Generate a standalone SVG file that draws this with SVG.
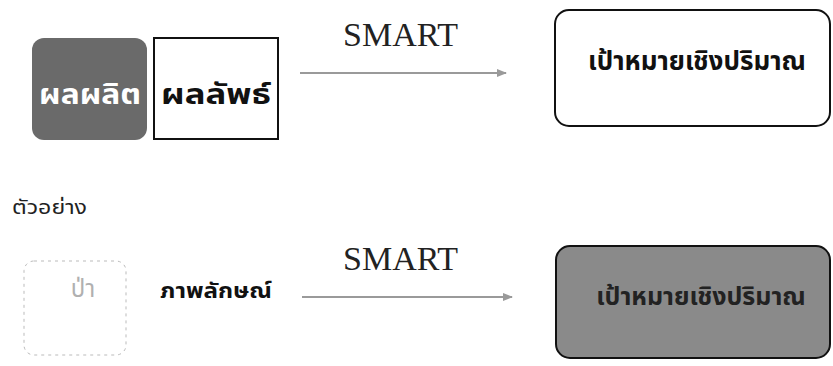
<svg xmlns="http://www.w3.org/2000/svg" width="833" height="366" viewBox="0 0 833 366">
<style>
.th{font-family:"Noto Sans Thai","Noto Sans","DejaVu Sans",sans-serif;font-weight:bold}
.thn{font-family:"Noto Sans Thai","Noto Sans","DejaVu Sans",sans-serif;font-weight:normal}
.sm{font-family:"Liberation Serif",serif;font-size:34px;fill:#222}
.conn{stroke:#9a9a9a;stroke-width:2;fill:none}
</style>
<defs>
<marker id="ah" markerWidth="10" markerHeight="8" refX="9" refY="4" orient="auto" markerUnits="userSpaceOnUse">
<path d="M0,0 L10,4 L0,8 Z" fill="#9a9a9a"/>
</marker>
</defs>
<rect width="833" height="366" fill="#fff"/>
<g id="output">
<rect x="32" y="38" width="115" height="102" rx="12" fill="#6a6a6a"/>
<text class="th" x="39" y="104" font-size="29" fill="#fff" textLength="102" lengthAdjust="spacingAndGlyphs">ผลผลิต</text>
</g>
<g id="outcome">
<rect x="154" y="38" width="124" height="101" fill="#fff" stroke="#111" stroke-width="2"/>
<text class="th" x="161" y="104" font-size="29" fill="#111" textLength="110" lengthAdjust="spacingAndGlyphs">ผลลัพธ์</text>
</g>
<g id="goal1">
<rect x="555" y="10" width="275" height="116" rx="14" fill="#fff" stroke="#111" stroke-width="2"/>
<text class="th" x="697" y="70" font-size="26" fill="#111" text-anchor="middle">เป้าหมายเชิงปริมาณ</text>
</g>
<g id="example-label">
<text class="thn" x="12" y="214" font-size="19" fill="#222" textLength="75" lengthAdjust="spacingAndGlyphs">ตัวอย่าง</text>
</g>
<g id="forest">
<rect x="24" y="261" width="102" height="94" rx="10" fill="none" stroke="#bbb" stroke-width="1" stroke-dasharray="3,4"/>
<text class="thn" x="83" y="297" font-size="24" fill="#b0b0b0" text-anchor="middle">ป่า</text>
</g>
<g id="image">
<text class="th" x="160" y="298" font-size="22" fill="#111" textLength="112" lengthAdjust="spacingAndGlyphs">ภาพลักษณ์</text>
</g>
<g id="goal2">
<rect x="556" y="246" width="274" height="112" rx="14" fill="#8a8a8a" stroke="#111" stroke-width="2"/>
<text class="th" x="701" y="305" font-size="25" fill="#222" text-anchor="middle">เป้าหมายเชิงปริมาณ</text>
</g>
<g id="connectors">
<line class="conn" x1="300" y1="73" x2="506" y2="73" marker-end="url(#ah)"/>
<text class="sm" x="343" y="46">SMART</text>
<line class="conn" x1="302" y1="297" x2="512" y2="297" marker-end="url(#ah)"/>
<text class="sm" x="343" y="270">SMART</text>
</g>
</svg>
